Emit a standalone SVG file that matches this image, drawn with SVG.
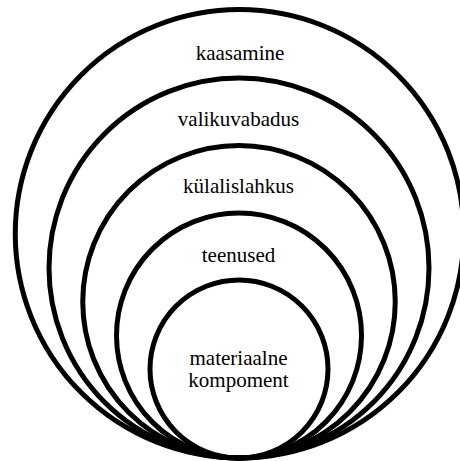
<svg xmlns="http://www.w3.org/2000/svg" width="460" height="461" viewBox="0 0 460 461">
<style>
.c{fill:none;stroke:#000;stroke-width:5}
.t{font-family:"Liberation Serif","Times New Roman",serif;font-size:21px;fill:#000;text-anchor:middle}
</style>
<rect width="460" height="461" fill="#fff"/>
<g id="n1"><circle class="c" cx="239.5" cy="233.75" r="224.25"/><text class="t" x="240" y="60">kaasamine</text></g>
<g id="n2"><circle class="c" cx="239" cy="268" r="190"/><text class="t" x="238.5" y="126">valikuvabadus</text></g>
<g id="n3"><circle class="c" cx="239" cy="301.75" r="156.25"/><text class="t" x="238.5" y="193">külalislahkus</text></g>
<g id="n4"><circle class="c" cx="239" cy="335.5" r="122.5"/><text class="t" x="238.5" y="262">teenused</text></g>
<g id="n5"><circle class="c" cx="239" cy="369" r="89"/><text class="t" x="238.5" y="365">materiaalne</text><text class="t" x="238.5" y="387">kompoment</text></g>
<g id="connectors"/>
</svg>
